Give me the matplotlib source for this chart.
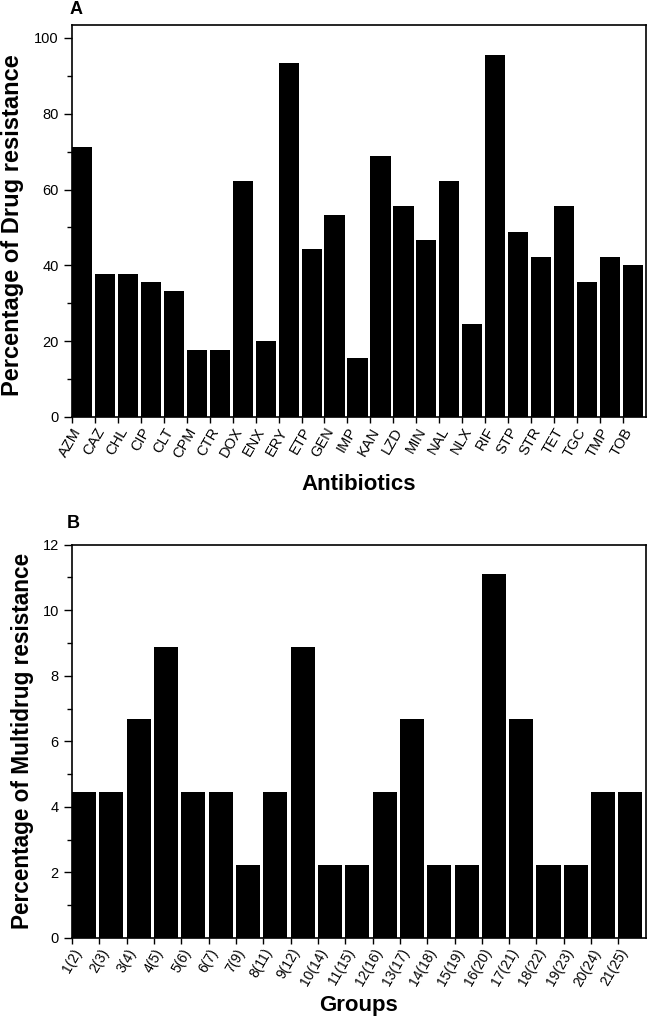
import matplotlib
matplotlib.use("Agg")
import matplotlib.pyplot as plt
from matplotlib.ticker import MultipleLocator

plt.rcParams['font.family'] = ['Liberation Sans', 'DejaVu Sans']

# panel A: resistance per antibiotic (%)
antibiotics = ['AZM', 'CAZ', 'CHL', 'CIP', 'CLT', 'CPM', 'CTR', 'DOX', 'ENX', 'ERY',
               'ETP', 'GEN', 'IMP', 'KAN', 'LZD', 'MIN', 'NAL', 'NLX', 'RIF', 'STP',
               'STR', 'TET', 'TGC', 'TMP', 'TOB']
drug_res = [71.1, 37.8, 37.8, 35.6, 33.3, 17.8, 17.8, 62.2, 20.0, 93.3,
            44.4, 53.3, 15.6, 68.9, 55.6, 46.7, 62.2, 24.4, 95.6, 48.9,
            42.2, 55.6, 35.6, 42.2, 40.0]

# panel B: multidrug resistance per group (%)
groups = ['1(2)', '2(3)', '3(4)', '4(5)', '5(6)', '6(7)', '7(9)', '8(11)', '9(12)',
          '10(14)', '11(15)', '12(16)', '13(17)', '14(18)', '15(19)', '16(20)',
          '17(21)', '18(22)', '19(23)', '20(24)', '21(25)']
mdr = [4.44, 4.44, 6.67, 8.89, 4.44, 4.44, 2.22, 4.44, 8.89, 2.22, 2.22,
       4.44, 6.67, 2.22, 2.22, 11.11, 6.67, 2.22, 2.22, 4.44, 4.44]

fig = plt.figure(figsize=(6.49, 10.19), dpi=100)
axA = fig.add_axes([0.111, 0.5908, 0.884, 0.385])
axB = fig.add_axes([0.111, 0.0795, 0.884, 0.386])


def style(ax, labels, xsize, major, minor):
    ax.set_xticks(range(len(labels)))
    ax.set_xticklabels(labels, rotation=60, ha='right', rotation_mode='anchor', fontsize=xsize)
    ax.yaxis.set_major_locator(MultipleLocator(major))
    ax.yaxis.set_minor_locator(MultipleLocator(minor))
    ax.tick_params(axis='y', which='major', length=6, width=1, labelsize=10.5, direction='out')
    ax.tick_params(axis='y', which='minor', length=3.5, width=1, direction='out')
    ax.tick_params(axis='x', which='major', length=4, width=1, direction='out', pad=2)
    for s in ax.spines.values():
        s.set_linewidth(1.2)


axA.bar(range(len(antibiotics)), drug_res, width=0.88, align='edge', color='black')
axA.set_xlim(0, 25)
axA.set_ylim(0, 103.5)
style(axA, antibiotics, 10.5, 20, 10)
axA.set_ylabel('Percentage of Drug resistance', fontsize=17, fontweight='bold')
axA.set_xlabel('Antibiotics', fontsize=16, fontweight='bold')
axA.yaxis.set_label_coords(-0.084, 0.49)
axA.xaxis.set_label_coords(0.5, -0.145)

axB.bar(range(len(groups)), mdr, width=0.88, align='edge', color='black')
axB.set_xlim(0, 21)
axB.set_ylim(0, 12)
style(axB, groups, 10, 2, 1)
axB.set_ylabel('Percentage of Multidrug resistance', fontsize=16.3, fontweight='bold')
axB.set_xlabel('Groups', fontsize=16, fontweight='bold')
axB.yaxis.set_label_coords(-0.066, 0.5)
axB.xaxis.set_label_coords(0.5, -0.145)

fig.text(0.117, 0.9905, 'A', fontsize=13, fontweight='bold', va='center', ha='center')
fig.text(0.113, 0.4867, 'B', fontsize=13, fontweight='bold', va='center', ha='center')

fig.savefig('out.png', dpi=100)
